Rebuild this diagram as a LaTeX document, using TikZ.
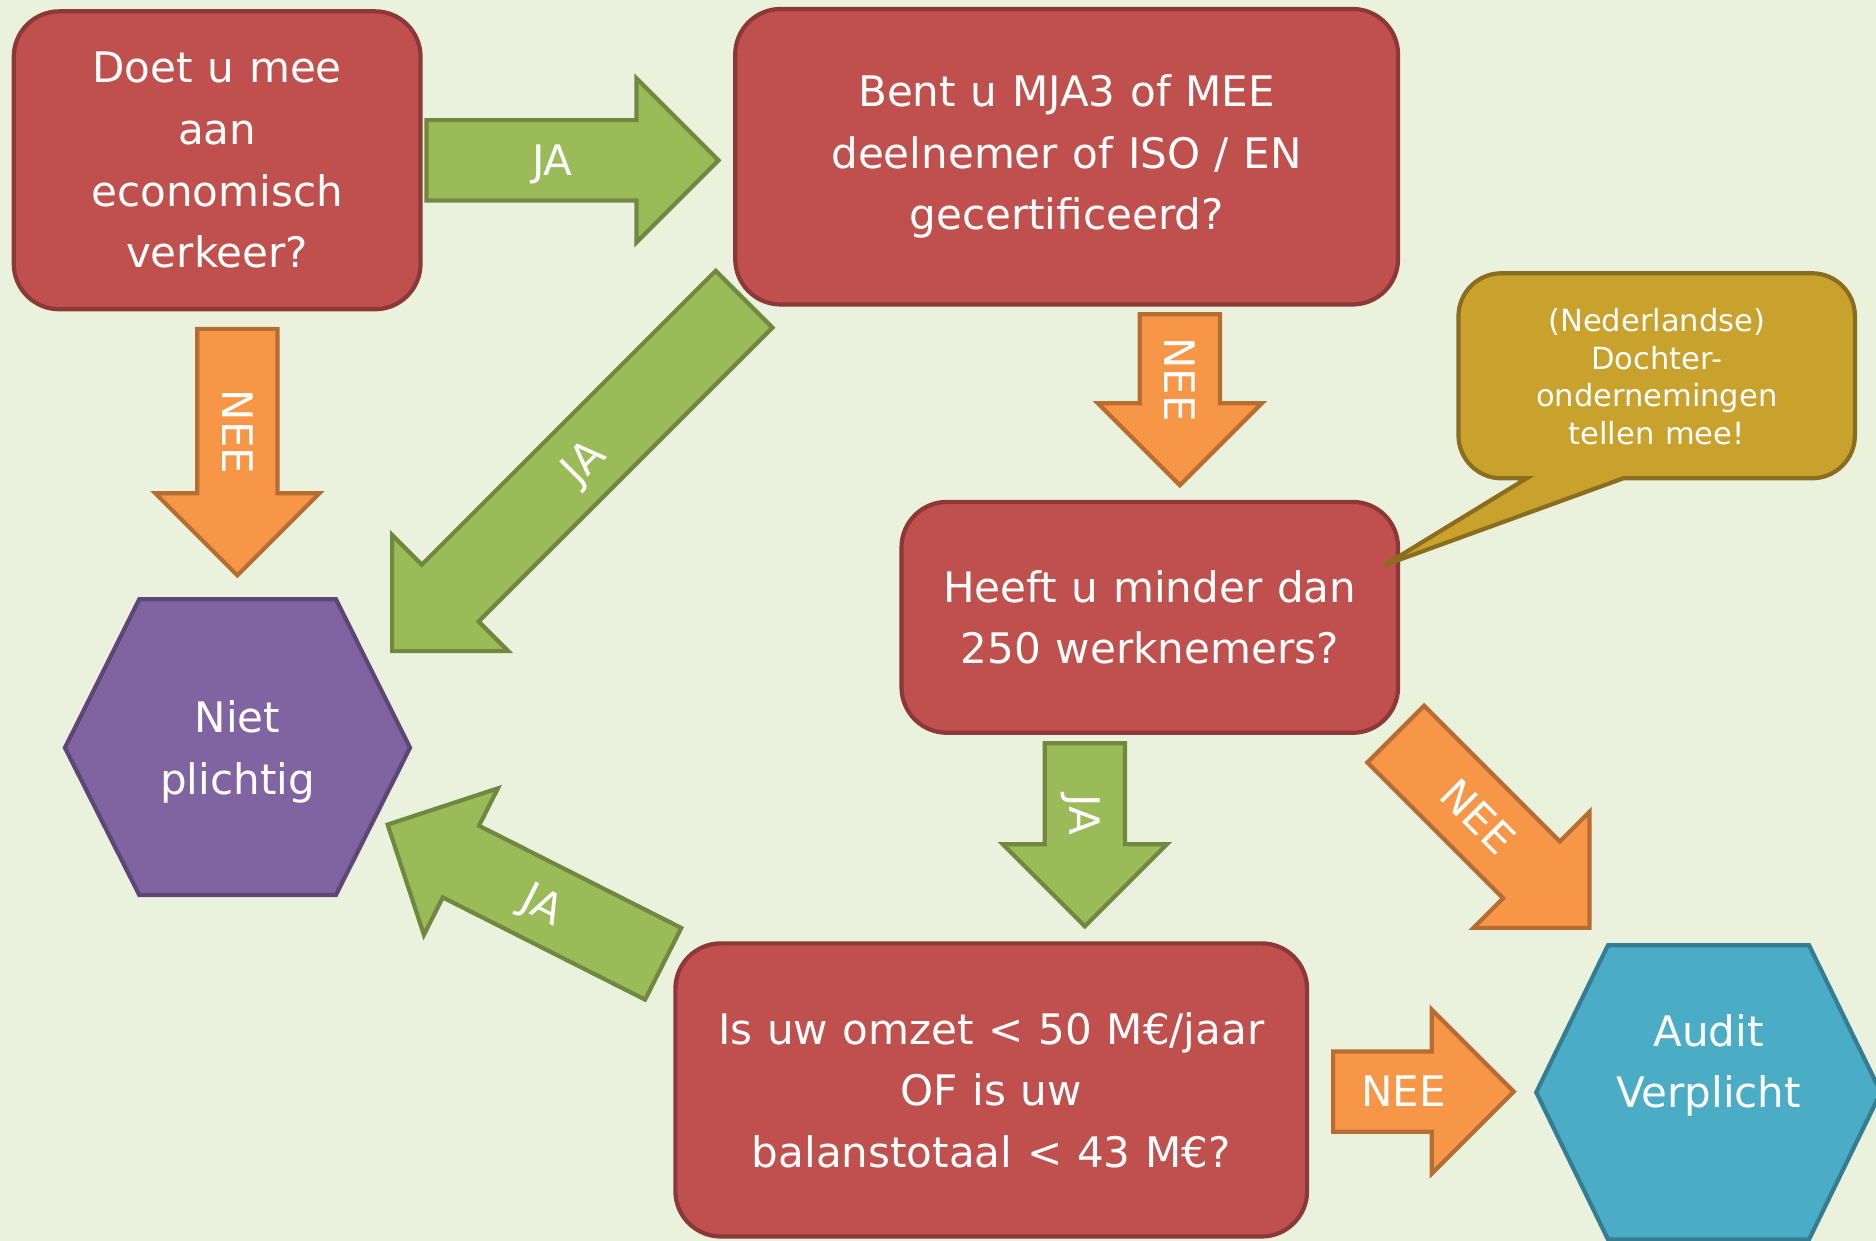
\documentclass[tikz,border=0pt]{standalone}
\usepackage{fontspec}
\setmainfont{DejaVu Sans}[WordSpace=1.1]
\usetikzlibrary{shapes.arrows}

\definecolor{achter}{HTML}{EAF2DE}
\definecolor{rood}{HTML}{C0504D}
\definecolor{roodrand}{HTML}{8C3836}
\definecolor{groen}{HTML}{9BBB59}
\definecolor{groenrand}{HTML}{71893F}
\definecolor{oranje}{HTML}{F79646}
\definecolor{oranjerand}{HTML}{B66D31}
\definecolor{paars}{HTML}{8064A2}
\definecolor{paarsrand}{HTML}{5C4776}
\definecolor{blauw}{HTML}{4BACC6}
\definecolor{blauwrand}{HTML}{357D91}
\definecolor{goud}{HTML}{C9A22E}
\definecolor{goudrand}{HTML}{8A6D1F}

\begin{document}
\begin{tikzpicture}[line width=1pt,
  vraag/.style={draw=roodrand, fill=rood, rounded corners=0.38cm, text=white, align=center, font=\fontsize{10}{14.65}\selectfont},
  uitkomst/.style={text=white, align=center, font=\fontsize{10}{14.65}\selectfont},
  pijl/.style={single arrow, single arrow head extend=0.35cm, single arrow tip angle=90, text=white, font=\fontsize{10}{12}\selectfont, text height=7.3pt, text depth=0pt, inner ysep=5.4pt, anchor=tip},
  ja/.style={pijl, draw=groenrand, fill=groen},
  nee/.style={pijl, draw=oranjerand, fill=oranje},
  terug/.style={shape border rotate=180}]
\useasboundingbox (0,0) rectangle (15.68,10.37);
\fill[achter] (0,0) rectangle (15.68,10.37);

\coordinate (tipAB) at (6.03,9.03);
\coordinate (tipA) at (1.984,5.536);
\coordinate (tipB) at (3.26,4.91);
\coordinate (tipBC) at (9.862,6.289);
\coordinate (tipC) at (9.068,2.603);
\coordinate (tipCA) at (13.303,2.597);
\coordinate (tipD) at (12.677,1.246);
\coordinate (tipDN) at (3.218,3.489);

% vragen
\node[vraag, minimum width=3.40cm, minimum height=2.49cm] (economisch) at (1.815,9.03) {Doet u mee\\aan\\economisch\\verkeer?};
\node[vraag, minimum width=5.54cm, minimum height=2.47cm] (mja) at (8.915,9.06) {Bent u MJA3 of MEE\\deelnemer of ISO / EN\\gecertificeerd?};
\node[vraag, minimum width=4.15cm, minimum height=1.93cm] (werknemers) at (9.61,5.21) {Heeft u minder dan\\250 werknemers?};
\node[vraag, minimum width=5.28cm, minimum height=2.45cm] (omzet) at (8.285,1.26) {Is uw omzet < 50 M€/jaar\\OF is uw\\balanstotaal < 43 M€?};

% uitkomsten
\draw[draw=paarsrand, fill=paars] (1.164,5.361) -- (2.808,5.361) -- (3.427,4.12) -- (2.808,2.89) -- (1.164,2.89) -- (0.543,4.12) -- cycle;
\node[uitkomst] (niet) at (1.985,4.085) {Niet\\plichtig};
\draw[draw=blauwrand, fill=blauw] (13.44,2.47) -- (15.12,2.47) -- (15.72,1.24) -- (15.12,0.01) -- (13.44,0.01) -- (12.84,1.24) -- cycle;
\node[uitkomst] (audit) at (14.28,1.465) {Audit\\Verplicht};

% pijlen
\node[ja, minimum height=2.44cm] (jaAB) at (tipAB) {JA};
\node[nee, minimum height=2.06cm, rotate=-90] (neeA) at (tipA) {NEE};
\node[ja, terug, minimum height=4.16cm, rotate=45] (jaB) at (tipB) {JA};
\node[nee, minimum height=1.43cm, rotate=-90] (neeB) at (tipBC) {NEE};
\node[ja, minimum height=1.53cm, rotate=-90] (jaC) at (tipC) {JA};
\node[nee, minimum height=2.29cm, rotate=-45] (neeC) at (tipCA) {NEE};
\node[nee, minimum height=1.51cm] (neeD) at (tipD) {NEE};
\node[ja, terug, minimum height=2.58cm, rotate=-26.8] (jaD) at (tipDN) {JA};

% ballon
\draw[draw=goudrand, fill=goud] (12.76,6.372) -- (12.55,6.372) arc (270:180:0.36) -- (12.19,7.726) arc (180:90:0.36) -- (15.144,8.086) arc (90:0:0.36) -- (15.504,6.732) arc (0:-90:0.36) -- (13.568,6.372) -- (11.576,5.648) -- cycle;
\node[text=white, align=center, font=\fontsize{7.26}{8.96}\selectfont] (dochter) at (13.847,7.222) {(Nederlandse)\\Dochter-\\ondernemingen\\tellen mee!};
\end{tikzpicture}
\end{document}
